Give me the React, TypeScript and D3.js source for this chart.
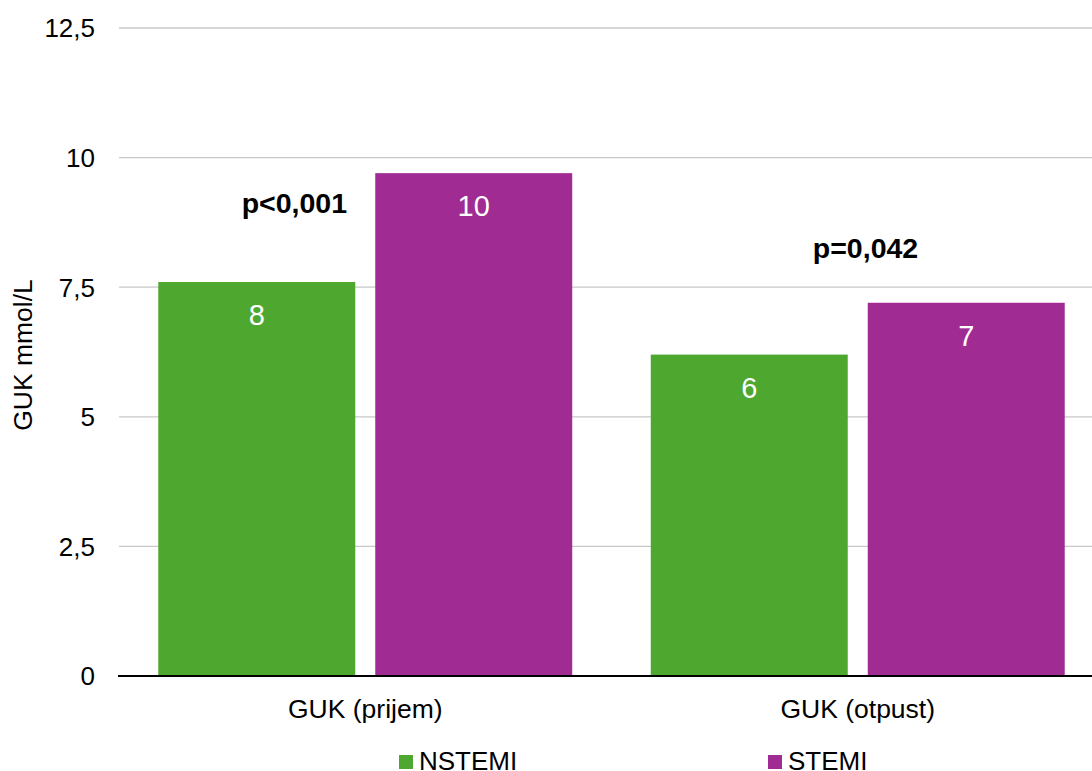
import React from "react";
import * as d3 from "d3";

const categories = ["GUK (prijem)", "GUK (otpust)"];
const seriesNames = ["NSTEMI", "STEMI"];
const nstemiValues = [7.6, 6.2];
const stemiValues = [9.7, 7.2];
const yTicks = [0, 2.5, 5, 7.5, 10, 12.5];
const pLabels = ["p<0,001", "p=0,042"];
const colors = ["#4EA72E", "#A02B93"];

const W = 1092;
const H = 771;
const FONT = "'Liberation Sans', Arial, sans-serif";

export default function App() {
  const left = 119;
  const right = 1104;
  const y = d3.scaleLinear().domain([0, 12.5]).range([676, 28]);
  const x = d3.scaleBand<string>().domain(categories).range([left, right]).padding(0);
  const xs = d3
    .scaleBand<string>()
    .domain(seriesNames)
    .range([0, x.bandwidth()])
    .paddingInner(0.0922)
    .paddingOuter(0.181);
  const fmt = (v: number) => String(v).replace(".", ",");
  const seriesValues = [nstemiValues, stemiValues];

  return (
    <svg
      width={W}
      height={H}
      style={{ position: "absolute", left: 0, top: 0, display: "block", background: "#fff" }}
      fontFamily={FONT}
    >
      {yTicks.map((t) => (
        <g key={t}>
          {t !== 0 && (
            <line x1={left} x2={W} y1={y(t)} y2={y(t)} stroke="#c8c8c8" strokeWidth={1.3} />
          )}
          <text x={95} y={y(t)} dy="0.36em" textAnchor="end" fontSize={26} fill="#000">
            {fmt(t)}
          </text>
        </g>
      ))}
      {categories.map((c, ci) => (
        <g key={c}>
          {seriesNames.map((s, si) => {
            const v = seriesValues[si][ci];
            const bx = (x(c) as number) + (xs(s) as number);
            return (
              <g key={s}>
                <rect
                  x={bx}
                  y={y(v)}
                  width={xs.bandwidth()}
                  height={y(0) - y(v)}
                  fill={colors[si]}
                />
                <text
                  x={bx + xs.bandwidth() / 2}
                  y={y(v) + 43}
                  textAnchor="middle"
                  fontSize={29}
                  fill="#fff"
                >
                  {Math.round(v)}
                </text>
              </g>
            );
          })}
          <text
            x={(x(c) as number) + x.bandwidth() / 2}
            y={718}
            textAnchor="middle"
            fontSize={26.5}
            fill="#000"
          >
            {c}
          </text>
        </g>
      ))}
      <text x={347} y={213} textAnchor="end" fontSize={28.5} fontWeight="bold" fill="#000">
        {pLabels[0]}
      </text>
      <text x={865.5} y={258} textAnchor="middle" fontSize={28.5} fontWeight="bold" fill="#000">
        {pLabels[1]}
      </text>
      <line x1={118} x2={W} y1={y(0)} y2={y(0)} stroke="#000" strokeWidth={2} />
      <text
        transform={`translate(32,355) rotate(-90)`}
        textAnchor="middle"
        fontSize={26.5}
        fill="#000"
      >
        GUK mmol/L
      </text>
      {seriesNames.map((s, i) => {
        const lx = [399, 768][i];
        return (
          <g key={s}>
            <rect x={lx} y={755} width={14} height={14} fill={colors[i]} />
            <text x={lx + 20} y={769.5} fontSize={26} fill="#000">
              {s}
            </text>
          </g>
        );
      })}
    </svg>
  );
}
